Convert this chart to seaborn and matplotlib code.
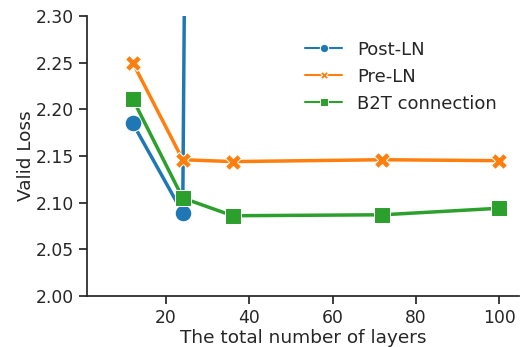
import matplotlib
matplotlib.use("Agg")
import matplotlib.pyplot as plt
import seaborn as sns
import pandas as pd

# Validation loss by depth for each layer-normalization scheme
layers_post = [12, 24, 36]
loss_post = [2.185, 2.089, 9.0]   # Post-LN diverges at 36 layers

layers_pre = [12, 24, 36, 72, 100]
loss_pre = [2.250, 2.146, 2.144, 2.146, 2.145]

layers_b2t = [12, 24, 36, 72, 100]
loss_b2t = [2.211, 2.105, 2.086, 2.087, 2.094]

methods = ["Post-LN", "Pre-LN", "B2T connection"]

df = pd.concat([
    pd.DataFrame({"layers": layers_post, "loss": loss_post, "method": methods[0]}),
    pd.DataFrame({"layers": layers_pre, "loss": loss_pre, "method": methods[1]}),
    pd.DataFrame({"layers": layers_b2t, "loss": loss_b2t, "method": methods[2]}),
])

sns.set_theme(style="ticks")
plt.rcParams["font.family"] = ["DejaVu Sans"]

fig = plt.figure(figsize=(5.23, 3.47), dpi=100)
ax = fig.add_axes([87 / 523, 51 / 347, 432 / 523, 280 / 347])

palette = dict(zip(methods, sns.color_palette("tab10", 3)))
markers = {"Post-LN": "o", "Pre-LN": "X", "B2T connection": "s"}

sns.lineplot(data=df, x="layers", y="loss", hue="method", style="method",
             hue_order=methods, style_order=methods, palette=palette,
             markers=markers, dashes=False, markersize=12, linewidth=2.5,
             ax=ax)

ax.set_xlim(1, 104.8)
ax.set_ylim(2.0, 2.3)
ax.set_xticks([20, 40, 60, 80, 100])
ax.set_yticks([2.00, 2.05, 2.10, 2.15, 2.20, 2.25, 2.30])
ax.set_yticklabels([f"{v:.2f}" for v in ax.get_yticks()])
ax.tick_params(labelsize=12.3, colors="#262626")
ax.set_xlabel("The total number of layers", fontsize=13.3, color="#262626", labelpad=1)
ax.set_ylabel("Valid Loss", fontsize=13.3, color="#262626", labelpad=0.5)
sns.despine(ax=ax)

handles, labels = ax.get_legend_handles_labels()
for h in handles:
    h.set_markersize(6)
    h.set_linewidth(1.5)
ax.legend(handles, labels, loc="upper left", bbox_to_anchor=(0.466, 0.97),
          frameon=False, fontsize=13, handlelength=2.1, labelspacing=0.5)

fig.savefig("out.png", dpi=100)
